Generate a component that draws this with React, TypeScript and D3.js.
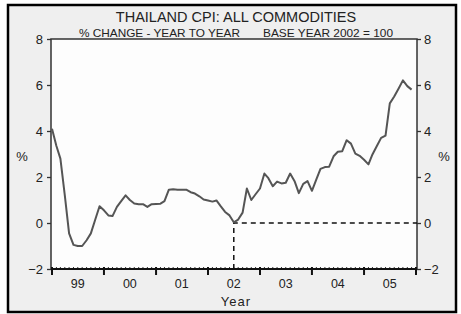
import React, { useEffect, useRef } from 'react';
import * as d3 from 'd3';

// Thailand CPI, % change year to year, monthly values
const cpi1999 = [4.1, 3.35, 2.8, 1.2, -0.45, -0.95, -1.0, -1.0, -0.75, -0.45, 0.15, 0.73];
const cpi2000 = [0.55, 0.33, 0.3, 0.7, 0.95, 1.2, 1.0, 0.85, 0.82, 0.82, 0.7, 0.82];
const cpi2001 = [0.83, 0.84, 0.95, 1.45, 1.47, 1.45, 1.45, 1.45, 1.34, 1.28, 1.16, 1.02];
const cpi2002 = [0.98, 0.93, 0.98, 0.72, 0.48, 0.33, 0.03, 0.15, 0.45, 1.5, 1.0, 1.25];
const cpi2003 = [1.5, 2.15, 1.95, 1.6, 1.8, 1.72, 1.75, 2.15, 1.82, 1.3, 1.7, 1.82];
const cpi2004 = [1.4, 1.9, 2.35, 2.43, 2.45, 2.9, 3.1, 3.12, 3.6, 3.45, 3.02, 2.92];
const cpi2005 = [2.75, 2.55, 2.98, 3.35, 3.7, 3.8, 5.2, 5.5, 5.85, 6.2, 5.95, 5.8];

const years = [1999, 2000, 2001, 2002, 2003, 2004, 2005];
const yearLabels = ['99', '00', '01', '02', '03', '04', '05'];
const yTicks = [-2, 0, 2, 4, 6, 8];
const baseDate = new Date(2002, 6, 1); // dashed marker, mid base year

const title = 'THAILAND CPI: ALL COMMODITIES';
const subLeft = '% CHANGE - YEAR TO YEAR';
const subRight = 'BASE YEAR 2002 = 100';

const App = () => {
    const svgRef = useRef(null);

    useEffect(() => {
        const W = 461, H = 314;
        const left = 51, right = 417, top = 39, bottom = 269;
        const font = 'Arial, "Liberation Sans", sans-serif';
        const ink = '#222';

        const series = [cpi1999, cpi2000, cpi2001, cpi2002, cpi2003, cpi2004, cpi2005];
        const data = [];
        series.forEach((vals, yi) => {
            vals.forEach((v, m) => data.push({ date: new Date(years[yi], m, 1), value: v }));
        });

        const svg = d3.select(svgRef.current);
        svg.selectAll('*').remove();

        const x = d3.scaleTime()
            .domain([new Date(1999, 0, 1), new Date(2006, 0, 1)])
            .range([left + 1, right - 1]);
        const y = d3.scaleLinear().domain([-2, 8]).range([bottom, top]);

        // outer frame
        svg.append('rect').attr('width', W).attr('height', H).attr('fill', '#fff');
        svg.append('rect')
            .attr('x', 8).attr('y', 5).attr('width', 448).attr('height', 307)
            .attr('fill', '#efefef').attr('stroke', '#000').attr('stroke-width', 2.5);

        // plot area
        svg.append('rect')
            .attr('x', left).attr('y', top)
            .attr('width', right - left).attr('height', bottom - top)
            .attr('fill', '#fdfdfd').attr('stroke', '#333').attr('stroke-width', 1.5);

        // titles
        svg.append('text')
            .attr('x', 236).attr('y', 22)
            .attr('text-anchor', 'middle')
            .style('font-family', font).style('font-size', '14.5px').style('fill', ink)
            .text(title);
        svg.append('text')
            .attr('x', 79).attr('y', 37)
            .attr('textLength', 161).attr('lengthAdjust', 'spacingAndGlyphs')
            .style('font-family', font).style('font-size', '10.5px').style('fill', ink)
            .text(subLeft);
        svg.append('text')
            .attr('x', 263).attr('y', 37)
            .attr('textLength', 130).attr('lengthAdjust', 'spacingAndGlyphs')
            .style('font-family', font).style('font-size', '10.5px').style('fill', ink)
            .text(subRight);

        // y axes, both sides
        const yAxisL = d3.axisLeft(y).tickValues(yTicks).tickSize(4).tickPadding(4).tickFormat(d3.format('d'));
        const yAxisR = d3.axisRight(y).tickValues(yTicks).tickSize(4).tickPadding(3).tickFormat(d3.format('d'));
        const gl = svg.append('g').attr('transform', `translate(${left},0)`).call(yAxisL);
        const gr = svg.append('g').attr('transform', `translate(${right},0)`).call(yAxisR);
        [gl, gr].forEach((g) => {
            g.select('.domain').remove();
            g.selectAll('line').attr('stroke', '#333').attr('stroke-width', 1.3);
            g.selectAll('text')
                .style('font-family', font).style('font-size', '13px').style('fill', ink);
        });

        svg.append('text')
            .attr('x', 22).attr('y', 161).attr('text-anchor', 'middle')
            .style('font-family', font).style('font-size', '13px').style('fill', ink)
            .text('%');
        svg.append('text')
            .attr('x', 444).attr('y', 161).attr('text-anchor', 'middle')
            .style('font-family', font).style('font-size', '13px').style('fill', ink)
            .text('%');

        // x axis: monthly minor ticks, yearly major ticks
        const gx = svg.append('g');
        gx.selectAll('line.minor')
            .data(d3.timeMonth.range(new Date(1999, 0, 1), new Date(2006, 0, 1)))
            .enter()
            .append('line')
            .attr('x1', (d) => x(d)).attr('x2', (d) => x(d))
            .attr('y1', bottom - 2).attr('y2', bottom)
            .attr('stroke', '#333').attr('stroke-width', 1);
        gx.append('line')
            .attr('x1', left).attr('x2', right)
            .attr('y1', bottom).attr('y2', bottom)
            .attr('stroke', '#111').attr('stroke-width', 2);
        gx.selectAll('line.major')
            .data(d3.timeYear.range(new Date(1999, 0, 1), new Date(2006, 0, 2)))
            .enter()
            .append('line')
            .attr('x1', (d) => x(d)).attr('x2', (d) => x(d))
            .attr('y1', bottom - 2).attr('y2', bottom + 6)
            .attr('stroke', '#111').attr('stroke-width', 2);
        gx.selectAll('text')
            .data(years)
            .enter()
            .append('text')
            .attr('x', (d) => x(new Date(d, 6, 1)))
            .attr('y', bottom + 19)
            .attr('text-anchor', 'middle')
            .style('font-family', font).style('font-size', '12.5px').style('fill', ink)
            .text((d, i) => yearLabels[i]);

        svg.append('text')
            .attr('x', 236).attr('y', 306).attr('text-anchor', 'middle')
            .attr('letter-spacing', 1)
            .style('font-family', font).style('font-size', '13px').style('fill', ink)
            .text('Year');

        // dashed base-year marker
        svg.append('path')
            .attr('d', `M${x(baseDate)},${bottom} V${y(0)} H${right}`)
            .attr('fill', 'none')
            .attr('stroke', '#111').attr('stroke-width', 1.5)
            .attr('stroke-dasharray', '5,4');

        // CPI line
        const line = d3.line()
            .x((d) => x(d.date))
            .y((d) => y(d.value));
        svg.append('path')
            .datum(data)
            .attr('d', line)
            .attr('fill', 'none')
            .attr('stroke', '#555')
            .attr('stroke-width', 2)
            .attr('stroke-linejoin', 'round');
    }, []);

    return (
        <div style={{ position: 'absolute', top: 0, left: 0 }}>
            <svg ref={svgRef} width={461} height={314} style={{ display: 'block' }} />
        </div>
    );
};

export default App;
